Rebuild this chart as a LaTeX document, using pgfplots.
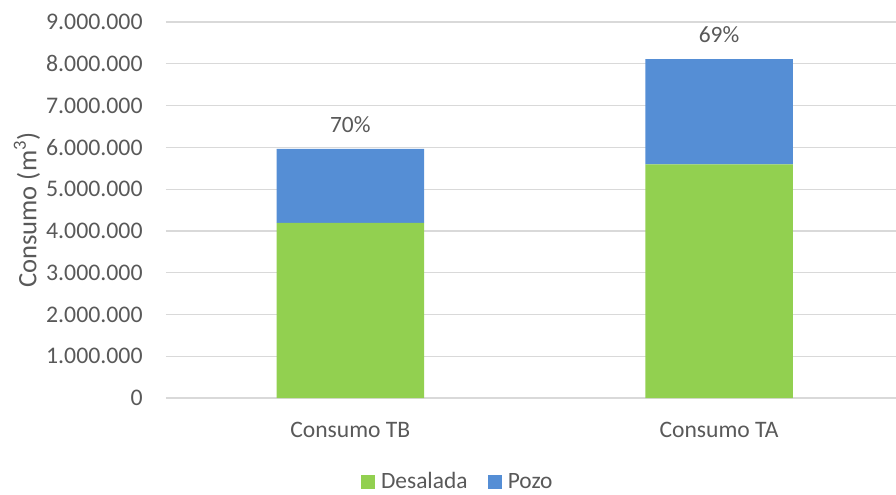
\documentclass[border=0pt]{standalone}
\usepackage{pgfplots}
\pgfplotsset{compat=1.18}
\usepackage{fontspec}
\setmainfont{Carlito}
\definecolor{txt}{HTML}{595959}
\definecolor{gridc}{HTML}{D9D9D9}
\definecolor{verde}{HTML}{92D050}
\definecolor{azul}{HTML}{558ED5}
\begin{document}
\begin{tikzpicture}
\useasboundingbox (-83pt,-48pt) rectangle (365pt,199pt);
\begin{axis}[
  at={(0,0)}, anchor=south west,
  scale only axis, width=365pt, height=188pt,
  xmin=-0.5, xmax=1.48, ymin=0, ymax=9000000,
  ybar stacked, bar width=0.4,
  axis line style={draw=none},
  ymajorgrids, grid style={draw=gridc, line width=0.6pt},
  major tick length=0pt,
  xtick={0,1}, xticklabels={Consumo TB, Consumo TA},
  ytick={0,1000000,2000000,3000000,4000000,5000000,6000000,7000000,8000000,9000000},
  scaled y ticks=false,
  /pgf/number format/fixed,
  /pgf/number format/1000 sep={.},
  /pgf/number format/assume math mode=true,
  yticklabel style={font=\fontsize{11.9}{14}\selectfont, text=txt, anchor=east, inner sep=0pt, xshift=-11.5pt},
  xticklabel style={font=\fontsize{11.8}{14}\selectfont, text=txt, anchor=north, inner sep=0pt, yshift=-11.8pt},
  ylabel={Consumo (m\textsuperscript{3})},
  ylabel style={at={(axis description cs:-0.1904,0.5)}, anchor=center, font=\fontsize{13.3}{15}\selectfont, text=txt},
  legend style={at={(axis description cs:0.3986,0)}, anchor=center, yshift=-42pt, draw=none, fill=none,
    legend columns=2, font=\fontsize{11.7}{14}\selectfont, text=txt,
    /tikz/every even column/.append style={column sep=10.3pt},
    /tikz/every odd column/.append style={column sep=2.85pt},
    nodes={inner sep=0pt}},
  legend image code/.code={\fill[#1] (0pt,-3.5pt) rectangle (7pt,3.5pt);},
]
\addplot[fill=verde, draw=none] coordinates {(0,4190000) (1,5590000)};
\addplot[fill=azul, draw=none] coordinates {(0,1770000) (1,2520000)};
\addplot[fill=azul, draw=none, nodes near coords, point meta=explicit symbolic,
  nodes near coords align={south},
  nodes near coords style={font=\fontsize{11.7}{13}\selectfont, text=txt, anchor=south, inner sep=0pt, yshift=8pt}]
  coordinates {(0,1000) [70\%] (1,1000) [69\%]};
\legend{Desalada, Pozo}
\end{axis}
\end{tikzpicture}
\end{document}
